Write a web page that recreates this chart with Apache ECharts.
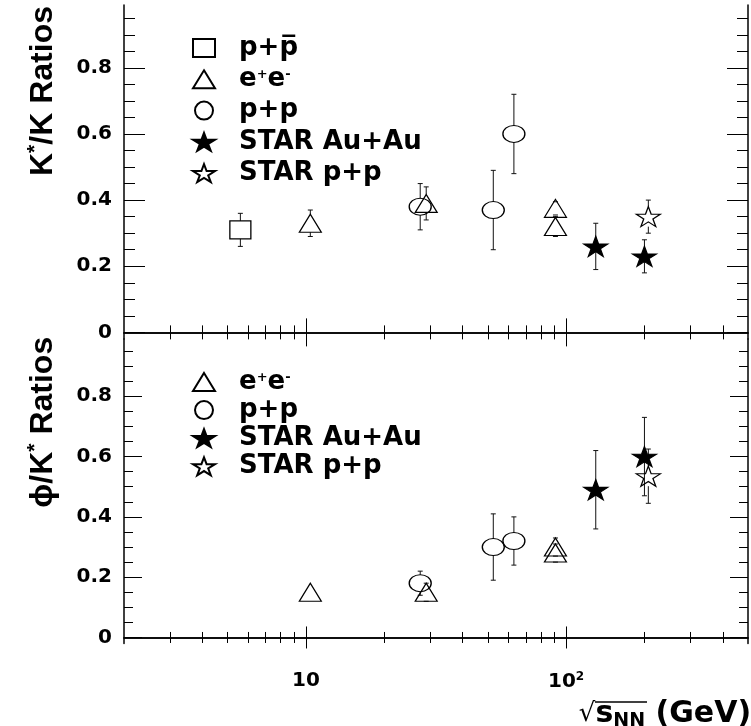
<!DOCTYPE html>
<html><head><meta charset="utf-8">
<script src="https://cdn.jsdelivr.net/npm/echarts@6/dist/echarts.min.js"></script>
<style>html,body{margin:0;padding:0;background:#fff}#c{width:751px;height:726px}</style>
</head><body><div id="c"></div>
<script>
// ---------------- data ----------------
const xTickMajor = [10, 100];
const xTickMinor = [3, 4, 5, 6, 7, 8, 9, 20, 30, 40, 50, 60, 70, 80, 90, 200, 300, 400];
const yTickMajor = [0, 0.2, 0.4, 0.6, 0.8];
const yTickMinor = [0.05, 0.1, 0.15, 0.25, 0.3, 0.35, 0.45, 0.5, 0.55, 0.65, 0.7, 0.75, 0.85, 0.9, 0.95];
const legendTop = ['p+p\u0305', 'e+e-', 'p+p', 'STAR Au+Au', 'STAR p+p'];
const legendBottom = ['e+e-', 'p+p', 'STAR Au+Au', 'STAR p+p'];

// K*/K panel
const kkPpbarX = [5.6],  kkPpbarY = [0.31], kkPpbarErr = [0.05];
const kkEeX = [10.4, 29, 91, 91], kkEeY = [0.33, 0.39, 0.375, 0.32], kkEeErr = [0.04, 0.05, 0.02, 0.03];
const kkPpX = [27.5, 52.5, 63], kkPpY = [0.38, 0.37, 0.60], kkPpErr = [0.07, 0.12, 0.12];
const kkAuX = [130, 200], kkAuY = [0.26, 0.23], kkAuErr = [0.07, 0.05];
const kkStarPpX = [207], kkStarPpY = [0.35], kkStarPpErr = [0.05];

// phi/K* panel
const pkEeX = [10.4, 29, 91, 91], pkEeY = [0.15, 0.15, 0.30, 0.28], pkEeErr = [0, 0.03, 0.03, 0.03];
const pkPpX = [27.5, 52.5, 63], pkPpY = [0.18, 0.30, 0.32], pkPpErr = [0.04, 0.11, 0.08];
const pkAuX = [130, 200], pkAuY = [0.49, 0.60], pkAuErr = [0.13, 0.13];
const pkStarPpX = [207], pkStarPpY = [0.535], pkStarPpErr = [0.09];

// ---------------- chart ----------------
const STAR = 'path://M50,0L61.23,34.55L97.55,34.55L68.17,55.9L79.39,90.45L50,69.1L20.61,90.45L31.83,55.9L2.45,34.55L38.77,34.55Z';
const LBL = "'DejaVu Sans', 'Liberation Sans', sans-serif";
const TITLEF = "'Liberation Sans', Arial, sans-serif";

const markers = {
  'p+p\u0305': { symbol: 'rect', size: [21, 18], fill: 'rgba(0,0,0,0)', gap: 9 },
  'e+e-': { symbol: 'triangle', size: [22, 18], fill: 'rgba(0,0,0,0)', gap: 9 },
  'p+p': { symbol: 'circle', size: [22, 17], fill: 'rgba(0,0,0,0)', gap: 8.5 },
  'STAR Au+Au': { symbol: STAR, size: [24, 20], fill: '#000', gap: 0 },
  'STAR p+p': { symbol: STAR, size: [24, 20], fill: 'rgba(0,0,0,0)', gap: 10 }
};

function zip(xs, ys, es) { return xs.map((x, i) => [x, ys[i], es[i]]); }

function errRender(gap) {
  return function (params, api) {
    const x = api.value(0), y = api.value(1), e = api.value(2);
    if (!(e > 0)) return null;
    const c = api.coord([x, y]);
    const t = api.coord([x, y + e]);
    const b = api.coord([x, y - e]);
    const st = { stroke: '#111', lineWidth: 1 };
    const cap = 2.5;
    const ch = [];
    if (c[1] - gap > t[1]) ch.push({ type: 'line', shape: { x1: c[0], y1: t[1], x2: c[0], y2: c[1] - gap }, style: st });
    if (c[1] + gap < b[1]) ch.push({ type: 'line', shape: { x1: c[0], y1: c[1] + gap, x2: c[0], y2: b[1] }, style: st });
    ch.push({ type: 'line', shape: { x1: c[0] - cap, y1: t[1], x2: c[0] + cap, y2: t[1] }, style: st });
    ch.push({ type: 'line', shape: { x1: c[0] - cap, y1: b[1], x2: c[0] + cap, y2: b[1] }, style: st });
    return { type: 'group', children: ch };
  };
}

const series = [];
function addSet(name, xs, ys, es, axisIdx) {
  const m = markers[name];
  const data = zip(xs, ys, es);
  series.push({
    type: 'custom', name: 'err ' + name + ' ' + axisIdx, xAxisIndex: axisIdx, yAxisIndex: axisIdx,
    data: data, encode: { x: 0, y: 1 }, renderItem: errRender(m.gap), z: 1, silent: true
  });
  series.push({
    type: 'scatter', name: name, xAxisIndex: axisIdx, yAxisIndex: axisIdx,
    data: data.map(d => [d[0], d[1]]), symbol: m.symbol, symbolSize: m.size, z: 3, silent: true,
    itemStyle: { color: m.fill, borderColor: '#000', borderWidth: 1.2, opacity: 1 }
  });
}
addSet('p+p\u0305', kkPpbarX, kkPpbarY, kkPpbarErr, 0);
addSet('e+e-', kkEeX, kkEeY, kkEeErr, 0);
addSet('p+p', kkPpX, kkPpY, kkPpErr, 0);
addSet('STAR Au+Au', kkAuX, kkAuY, kkAuErr, 0);
addSet('STAR p+p', kkStarPpX, kkStarPpY, kkStarPpErr, 0);
addSet('e+e-', pkEeX, pkEeY, pkEeErr, 2);
addSet('p+p', pkPpX, pkPpY, pkPpErr, 2);
addSet('STAR Au+Au', pkAuX, pkAuY, pkAuErr, 2);
addSet('STAR p+p', pkStarPpX, pkStarPpY, pkStarPpErr, 2);

const LINE = { show: true, lineStyle: { color: '#000', width: 1.5 } };
const NOLINE = { show: false };
function xAx(grid, pos, ticks, len, line) {
  return {
    type: 'log', logBase: 10, gridIndex: grid, position: pos, min: 2, max: 500,
    axisLine: line ? LINE : NOLINE, splitLine: { show: false },
    axisTick: { show: true, inside: true, length: len, customValues: ticks, lineStyle: { color: '#000', width: 1 } },
    axisLabel: { show: false }
  };
}
function yAx(grid, pos, ticks, len, line) {
  return {
    type: 'value', gridIndex: grid, position: pos, min: -0.02, max: 0.99,
    axisLine: line ? LINE : NOLINE, splitLine: { show: false },
    axisTick: { show: true, inside: true, length: len, customValues: ticks, lineStyle: { color: '#000', width: 1 } },
    axisLabel: { show: false }
  };
}

// grids: 0 top (data), 1 top (minor ticks), 2 bottom (data), 3 bottom (minor ticks)
function mkGrid(top, height) {
  return { left: 124, width: 624, top: top, height: height, containLabel: false, outerBoundsMode: 'none' };
}
const grid = [mkGrid(5, 334), mkGrid(5, 334), mkGrid(339, 304.5), mkGrid(339, 304.5)];

const xAxis = [
  xAx(0, 'bottom', xTickMajor, 14, true),
  xAx(1, 'bottom', xTickMinor, 7, false),
  xAx(2, 'bottom', xTickMajor, 11, true),
  xAx(3, 'bottom', xTickMinor, 5.5, false),
  xAx(0, 'top', xTickMajor, 14, true),
  xAx(1, 'top', xTickMinor, 7, false),
  xAx(2, 'top', xTickMajor, 11, true),
  xAx(3, 'top', xTickMinor, 5.5, false)
];
const yAxis = [
  yAx(0, 'left', yTickMajor, 21, true),
  yAx(1, 'left', yTickMinor, 11, false),
  yAx(2, 'left', yTickMajor, 18, true),
  yAx(3, 'left', yTickMinor, 9, false),
  yAx(0, 'right', yTickMajor, 21, true),
  yAx(1, 'right', yTickMinor, 11, false),
  yAx(2, 'right', yTickMajor, 18, true),
  yAx(3, 'right', yTickMinor, 9, false)
];

const yLabel = {
  show: true, customValues: yTickMajor, margin: 12, color: '#000',
  fontFamily: LBL, fontWeight: 'bold', fontSize: 20,
  formatter: v => (Math.abs(v) < 1e-9 ? '0' : v.toFixed(1))
};
yAxis[0].axisLabel = yLabel;
yAxis[2].axisLabel = Object.assign({}, yLabel);

const titleRich = {
  t: { fontFamily: TITLEF, fontWeight: 'bold', fontSize: 32, color: '#000', lineHeight: 36 },
  st: { fontFamily: TITLEF, fontWeight: 'bold', fontSize: 21, color: '#000', lineHeight: 36, verticalAlign: 'top' }
};
yAxis[0].name = '{t|K}{st|*}{t|/K Ratios}';
yAxis[0].nameLocation = 'middle';
yAxis[0].nameGap = 63;
yAxis[0].nameTextStyle = { padding: [0, 0, 0, 162], rich: titleRich };
yAxis[2].name = '{t|\u03d5/K}{st|*}{t| Ratios}';
yAxis[2].nameLocation = 'middle';
yAxis[2].nameGap = 63;
yAxis[2].nameTextStyle = { padding: [0, 0, 0, 138], rich: titleRich };

xAxis[2].axisLabel = {
  show: true, customValues: xTickMajor, margin: 27, color: '#000',
  fontFamily: LBL, fontWeight: 'bold', fontSize: 20,
  formatter: v => (v >= 99 ? '10{s|2}' : '10'),
  rich: { s: { fontFamily: LBL, fontWeight: 'bold', fontSize: 12, verticalAlign: 'top', lineHeight: 22 } }
};
xAxis[2].name = '{r|\u221a}{s|s}{n|NN}{g| (GeV)}';
xAxis[2].nameLocation = 'middle';
xAxis[2].nameGap = 55;
xAxis[2].nameTextStyle = {
  padding: [0, 0, 0, 458],
  rich: {
    r: { fontFamily: LBL, fontSize: 26, color: '#000', lineHeight: 32 },
    s: { fontFamily: LBL, fontWeight: 'bold', fontSize: 30, color: '#000', lineHeight: 32 },
    n: { fontFamily: LBL, fontWeight: 'bold', fontSize: 19, color: '#000', lineHeight: 32, verticalAlign: 'bottom' },
    g: { fontFamily: LBL, fontWeight: 'bold', fontSize: 30, color: '#000', lineHeight: 32 }
  }
};

const legRich = {
  b: { fontFamily: LBL, fontWeight: 'bold', fontSize: 26, color: '#000', lineHeight: 22 },
  sup: { fontFamily: LBL, fontWeight: 'bold', fontSize: 13, color: '#000', lineHeight: 22, verticalAlign: 'top' }
};
function legFmt(name) {
  if (name === 'e+e-') return '{b|e}{sup|+}{b|e}{sup|-}';
  return '{b|' + name + '}';
}
function legend(names, top, gap) {
  return {
    data: names, orient: 'vertical', left: 192, top: top, padding: 0, itemWidth: 22, itemHeight: 18, itemGap: gap,
    symbolKeepAspect: false, selectedMode: false, formatter: legFmt,
    textStyle: { fontFamily: LBL, fontWeight: 'bold', fontSize: 26, color: '#000', lineHeight: 22, padding: [0, 0, 0, 19], rich: legRich }
  };
}

const chart = echarts.init(document.getElementById('c'), null, { renderer: 'canvas' });
chart.setOption({
  animation: false,
  backgroundColor: '#fff',
  grid: grid,
  xAxis: xAxis,
  yAxis: yAxis,
  legend: [legend(legendTop, 35, 5.3), legend(legendBottom, 369, 2.1)],
  graphic: [
    { type: 'line', shape: { x1: 595, y1: 702, x2: 647, y2: 702 }, style: { stroke: '#000', lineWidth: 1.5 } }
  ],
  series: series
});
</script></body></html>
